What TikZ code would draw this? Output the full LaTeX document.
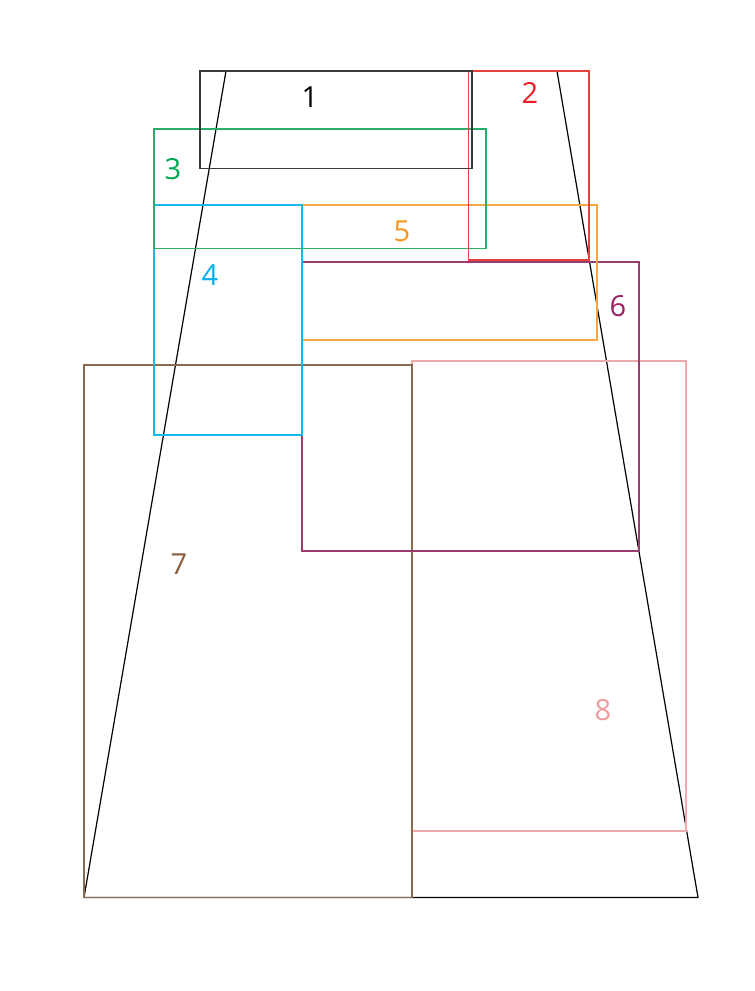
\documentclass[tikz,border=0pt]{standalone}
\usepackage{fontspec}
\setmainfont{Open Sans}
\definecolor{c1}{HTML}{3A3A3A}
\definecolor{c2}{HTML}{E8403A}
\definecolor{c2t}{HTML}{ED1C24}
\definecolor{c3}{HTML}{2AAE6A}
\definecolor{c3t}{HTML}{00A651}
\definecolor{c4}{HTML}{18B8E8}
\definecolor{c4t}{HTML}{00AEEF}
\definecolor{c5}{HTML}{F6A444}
\definecolor{c5t}{HTML}{F7941D}
\definecolor{c6}{HTML}{9A3C72}
\definecolor{c6t}{HTML}{9E1F63}
\definecolor{c7}{HTML}{8E6A4C}
\definecolor{c7t}{HTML}{8B5E3C}
\definecolor{c8}{HTML}{EDAAAA}
\definecolor{c8t}{HTML}{EE9A9E}
\tikzset{
  box/.style={line width=1.3pt},
  lbl/.style={inner sep=0pt, font=\fontsize{29}{32}\selectfont}
}
\begin{document}
\begin{tikzpicture}[x=1pt,y=-1pt]
\useasboundingbox (0,0) rectangle (755,991);
% trapezoid
\draw[line width=1.2pt, black] (226,71) -- (557,71) -- (698,897.5) -- (84,897.5) -- cycle;
% rectangles
\draw[box, c8] (412,361) rectangle (686,831);
\draw[box, c7] (84,365) rectangle (412,897.5);
\draw[box, c6] (302,262) rectangle (639,551);
\draw[box, c5] (302,205) rectangle (597,340);
\draw[box, c4] (154,205) rectangle (302,435);
\draw[box, c3] (154,129) rectangle (486,248.5);
\draw[box, c2] (468.5,71) rectangle (589,260);
\draw[box, c1] (200,71) rectangle (472,168.5);
% labels
\node[lbl, text=black] (l1) at (310,97) {1};
\node[lbl, text=c2t] (l2) at (530,93) {2};
\node[lbl, text=c3t] (l3) at (173,169) {3};
\node[lbl, text=c4t] (l4) at (210,275) {4};
\node[lbl, text=c5t] (l5) at (402,231) {5};
\node[lbl, text=c6t] (l6) at (618,306) {6};
\node[lbl, text=c7t] (l7) at (179,564) {7};
\node[lbl, text=c8t] (l8) at (603,710) {8};
\end{tikzpicture}
\end{document}
